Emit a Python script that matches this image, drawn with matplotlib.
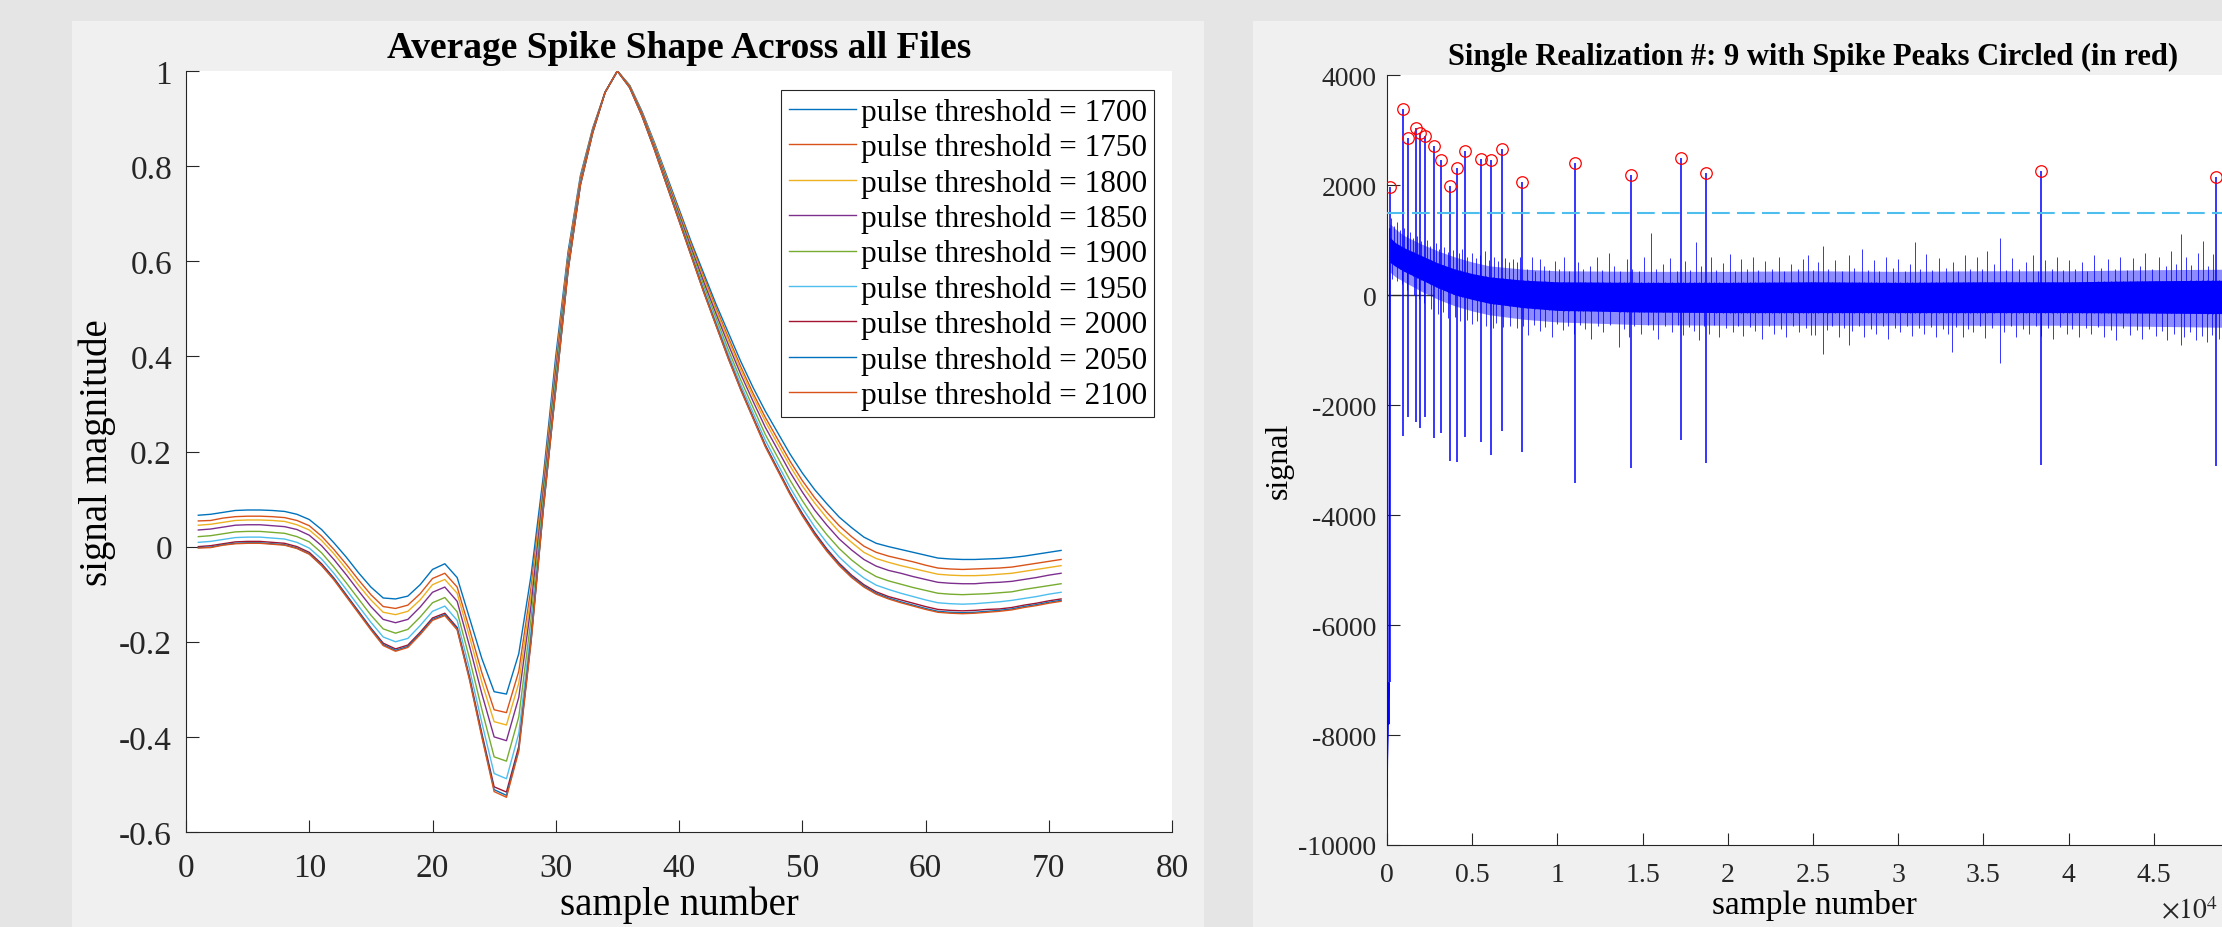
import matplotlib
matplotlib.use('Agg')
import matplotlib.pyplot as plt
from matplotlib.patches import Rectangle
import numpy as np

plt.rcParams['font.family'] = ['Liberation Serif', 'DejaVu Serif']
plt.rcParams['mathtext.fontset'] = 'stix'
plt.rcParams['axes.unicode_minus'] = False

# ---------------- left panel data ----------------
samples = list(range(1, 72))
thresholds = [1700, 1750, 1800, 1850, 1900, 1950, 2000, 2050, 2100]

avg_1700 = [0.066, 0.068, 0.072, 0.076, 0.077, 0.077, 0.076, 0.074, 0.068, 0.057,
            0.036, 0.008, -0.022, -0.055, -0.085, -0.108, -0.110, -0.104, -0.080, -0.048,
            -0.036, -0.065, -0.150, -0.235, -0.305, -0.310, -0.225, -0.060, 0.150, 0.400,
            0.620, 0.780, 0.880, 0.955, 1.000, 0.970, 0.915, 0.850, 0.780, 0.710,
            0.640, 0.575, 0.510, 0.450, 0.390, 0.335, 0.285, 0.240, 0.195, 0.155,
            0.120, 0.090, 0.062, 0.040, 0.020, 0.007, 0.000, -0.006, -0.012, -0.018,
            -0.024, -0.026, -0.027, -0.027, -0.026, -0.025, -0.023, -0.020, -0.016, -0.012,
            -0.008]
avg_1750 = [0.054, 0.055, 0.060, 0.063, 0.064, 0.064, 0.063, 0.061, 0.055, 0.044,
            0.022, -0.006, -0.037, -0.070, -0.101, -0.126, -0.130, -0.123, -0.099, -0.067,
            -0.056, -0.085, -0.173, -0.265, -0.343, -0.349, -0.262, -0.085, 0.137, 0.387,
            0.613, 0.776, 0.878, 0.955, 1.000, 0.969, 0.913, 0.847, 0.776, 0.706,
            0.635, 0.568, 0.502, 0.440, 0.379, 0.323, 0.272, 0.226, 0.180, 0.139,
            0.103, 0.072, 0.044, 0.021, 0.001, -0.012, -0.020, -0.026, -0.032, -0.039,
            -0.045, -0.047, -0.048, -0.047, -0.046, -0.045, -0.043, -0.039, -0.035, -0.031,
            -0.027]
avg_1800 = [0.045, 0.047, 0.051, 0.055, 0.056, 0.056, 0.055, 0.053, 0.046, 0.035,
            0.013, -0.015, -0.047, -0.081, -0.112, -0.138, -0.143, -0.136, -0.112, -0.080,
            -0.069, -0.098, -0.189, -0.285, -0.368, -0.375, -0.287, -0.102, 0.129, 0.379,
            0.608, 0.774, 0.877, 0.955, 1.000, 0.969, 0.912, 0.846, 0.774, 0.703,
            0.631, 0.563, 0.497, 0.434, 0.372, 0.316, 0.263, 0.216, 0.170, 0.128,
            0.092, 0.060, 0.031, 0.009, -0.012, -0.025, -0.033, -0.040, -0.046, -0.052,
            -0.058, -0.060, -0.061, -0.061, -0.060, -0.058, -0.056, -0.052, -0.048, -0.044,
            -0.040]
avg_1850 = [0.035, 0.037, 0.041, 0.045, 0.046, 0.046, 0.044, 0.042, 0.036, 0.024,
            0.002, -0.027, -0.059, -0.093, -0.126, -0.153, -0.160, -0.153, -0.127, -0.096,
            -0.085, -0.115, -0.209, -0.309, -0.400, -0.408, -0.317, -0.123, 0.119, 0.369,
            0.602, 0.771, 0.876, 0.955, 1.000, 0.968, 0.911, 0.843, 0.771, 0.699,
            0.627, 0.557, 0.490, 0.425, 0.363, 0.306, 0.251, 0.204, 0.157, 0.115,
            0.077, 0.045, 0.016, -0.007, -0.027, -0.041, -0.050, -0.056, -0.063, -0.069,
            -0.075, -0.077, -0.078, -0.078, -0.076, -0.075, -0.073, -0.069, -0.065, -0.060,
            -0.056]
avg_1900 = [0.021, 0.023, 0.027, 0.031, 0.032, 0.032, 0.030, 0.028, 0.021, 0.010,
            -0.013, -0.043, -0.076, -0.110, -0.144, -0.173, -0.182, -0.174, -0.148, -0.118,
            -0.107, -0.137, -0.235, -0.342, -0.442, -0.451, -0.358, -0.151, 0.105, 0.355,
            0.594, 0.767, 0.874, 0.955, 1.000, 0.967, 0.909, 0.840, 0.767, 0.694,
            0.621, 0.549, 0.481, 0.414, 0.351, 0.293, 0.236, 0.188, 0.140, 0.097,
            0.058, 0.025, -0.004, -0.028, -0.048, -0.063, -0.072, -0.079, -0.086, -0.092,
            -0.098, -0.100, -0.101, -0.100, -0.099, -0.097, -0.095, -0.090, -0.086, -0.082,
            -0.078]
avg_1950 = [0.009, 0.011, 0.015, 0.019, 0.020, 0.020, 0.018, 0.016, 0.009, -0.003,
            -0.026, -0.056, -0.090, -0.125, -0.159, -0.190, -0.200, -0.193, -0.166, -0.136,
            -0.125, -0.155, -0.257, -0.370, -0.477, -0.488, -0.393, -0.175, 0.093, 0.343,
            0.587, 0.764, 0.872, 0.955, 1.000, 0.966, 0.907, 0.838, 0.764, 0.690,
            0.615, 0.542, 0.473, 0.405, 0.341, 0.282, 0.224, 0.174, 0.125, 0.081,
            0.042, 0.008, -0.022, -0.046, -0.066, -0.081, -0.090, -0.098, -0.105, -0.112,
            -0.118, -0.120, -0.121, -0.120, -0.118, -0.116, -0.113, -0.109, -0.105, -0.100,
            -0.096]
avg_2000 = [0.000, 0.002, 0.006, 0.010, 0.011, 0.011, 0.009, 0.007, 0.000, -0.012,
            -0.036, -0.066, -0.101, -0.136, -0.171, -0.203, -0.215, -0.207, -0.180, -0.150,
            -0.140, -0.170, -0.274, -0.392, -0.505, -0.516, -0.420, -0.193, 0.084, 0.334,
            0.582, 0.761, 0.871, 0.955, 1.000, 0.965, 0.906, 0.836, 0.761, 0.686,
            0.612, 0.537, 0.467, 0.398, 0.333, 0.273, 0.214, 0.164, 0.114, 0.070,
            0.030, -0.005, -0.035, -0.060, -0.080, -0.095, -0.105, -0.112, -0.119, -0.126,
            -0.132, -0.134, -0.135, -0.134, -0.132, -0.131, -0.128, -0.123, -0.119, -0.114,
            -0.110]
avg_2050 = [-0.002, -0.001, 0.004, 0.007, 0.008, 0.008, 0.006, 0.004, -0.003, -0.015,
            -0.039, -0.068, -0.103, -0.138, -0.173, -0.206, -0.218, -0.210, -0.183, -0.153,
            -0.143, -0.173, -0.277, -0.397, -0.511, -0.523, -0.426, -0.197, 0.081, 0.331,
            0.581, 0.760, 0.870, 0.955, 1.000, 0.965, 0.905, 0.835, 0.760, 0.686,
            0.611, 0.536, 0.466, 0.396, 0.331, 0.271, 0.212, 0.162, 0.112, 0.067,
            0.027, -0.008, -0.038, -0.063, -0.083, -0.098, -0.108, -0.116, -0.123, -0.130,
            -0.136, -0.138, -0.139, -0.138, -0.136, -0.134, -0.131, -0.126, -0.122, -0.117,
            -0.113]
avg_2100 = [-0.003, -0.002, 0.003, 0.006, 0.007, 0.007, 0.005, 0.003, -0.004, -0.016,
            -0.040, -0.070, -0.105, -0.140, -0.175, -0.208, -0.220, -0.212, -0.185, -0.155,
            -0.145, -0.175, -0.280, -0.400, -0.515, -0.527, -0.430, -0.200, 0.080, 0.330,
            0.580, 0.760, 0.870, 0.955, 1.000, 0.965, 0.905, 0.835, 0.760, 0.685,
            0.610, 0.535, 0.465, 0.395, 0.330, 0.270, 0.210, 0.160, 0.110, 0.065,
            0.025, -0.010, -0.040, -0.065, -0.085, -0.100, -0.110, -0.118, -0.125, -0.132,
            -0.138, -0.140, -0.141, -0.140, -0.138, -0.136, -0.133, -0.128, -0.124, -0.119,
            -0.115]
curves = [avg_1700, avg_1750, avg_1800, avg_1850, avg_1900,
          avg_1950, avg_2000, avg_2050, avg_2100]
curve_colors = ['#0072BD', '#D95319', '#EDB120', '#7E2F8E', '#77AC30',
                '#4DBEEE', '#A2142F', '#0072BD', '#D95319']

left_xticks = [0, 10, 20, 30, 40, 50, 60, 70, 80]
left_yticks = [-0.6, -0.4, -0.2, 0, 0.2, 0.4, 0.6, 0.8, 1.0]
left_yticklabels = ['-0.6', '-0.4', '-0.2', '0', '0.2', '0.4', '0.6', '0.8', '1']

# ---------------- right panel data (x in units of 1e4 samples) ----------------
spike_x = [0.017, 0.091, 0.124, 0.168, 0.195, 0.222, 0.277, 0.318, 0.371, 0.413,
           0.458, 0.553, 0.612, 0.673, 0.794, 1.101, 1.434, 1.723, 1.874, 3.838, 4.866]
spike_peak = [1958, 3380, 2860, 3042, 2940, 2900, 2710, 2453, 1990, 2313,
              2624, 2473, 2453, 2660, 2046, 2402, 2185, 2500, 2222, 2247, 2150]
spike_trough = [-7040, -2558, -2224, -2303, -2412, -2224, -2605, -2515, -3024, -3036,
                -2576, -2667, -2909, -2473, -2860, -3418, -3150, -2634, -3063, -3085, -3118]

start_x = [0.0, 0.002, 0.006, 0.008, 0.010, 0.012, 0.016]
start_y = [-9130, -8450, -7950, -7050, -7800, -7040, 1200]

env_x = [0.016, 0.05, 0.1, 0.2, 0.3, 0.4, 0.5, 0.6, 0.8, 1.0, 1.5, 2.0, 2.5, 3.0, 3.5, 4.0, 4.5, 5.0]
core_hi = [1050, 950, 860, 720, 580, 470, 390, 330, 270, 240, 230, 230, 240, 230, 240, 240, 260, 270]
core_lo = [600, 520, 430, 280, 130, 0, -80, -150, -230, -280, -310, -320, -320, -320, -320, -320, -330, -340]
fringe_hi = [1300, 1200, 1080, 930, 800, 690, 600, 530, 470, 440, 430, 430, 440, 430, 440, 440, 460, 470]
fringe_lo = [420, 330, 240, 70, -80, -200, -290, -360, -440, -490, -540, -550, -550, -550, -550, -550, -570, -590]

# upward noise excursions beyond the dense band
up_x = [0.025, 0.04, 0.058, 0.075, 0.098, 0.115, 0.135, 0.152, 0.178, 0.2,
        0.232, 0.255, 0.29, 0.305, 0.335, 0.36, 0.39, 0.425, 0.44, 0.47,
        0.5, 0.525, 0.545, 0.575, 0.6, 0.625, 0.65, 0.69, 0.715, 0.74,
        0.765, 0.78, 0.82, 0.85, 0.87, 0.896, 0.92, 0.95, 0.984, 1.01,
        1.04, 1.07, 1.12, 1.15, 1.19, 1.23, 1.26, 1.3, 1.33, 1.37,
        1.41, 1.44, 1.48, 1.51, 1.547, 1.58, 1.62, 1.66, 1.7, 1.75,
        1.78, 1.812, 1.84, 1.9, 1.93, 1.97, 2.01, 2.04, 2.08, 2.11,
        2.146, 2.18, 2.22, 2.26, 2.3, 2.33, 2.37, 2.41, 2.44, 2.47,
        2.5, 2.53, 2.556, 2.59, 2.63, 2.67, 2.71, 2.74, 2.79, 2.82,
        2.86, 2.89, 2.93, 2.97, 3.0, 3.04, 3.07, 3.1, 3.13, 3.165,
        3.2, 3.24, 3.28, 3.32, 3.35, 3.39, 3.42, 3.46, 3.49, 3.52,
        3.56, 3.6, 3.63, 3.67, 3.71, 3.75, 3.79, 3.82, 3.86, 3.9,
        3.93, 3.97, 4.0, 4.04, 4.08, 4.11, 4.15, 4.19, 4.23, 4.27,
        4.3, 4.34, 4.38, 4.42, 4.45, 4.49, 4.53, 4.57, 4.6, 4.63,
        4.66, 4.69, 4.72, 4.76, 4.79, 4.82, 4.85, 4.9, 4.93, 4.97]
up_tip = [1400, 1250, 1330, 1180, 1220, 1100, 1150, 1030, 1080, 980,
          1000, 900, 940, 830, 880, 780, 820, 760, 840, 700,
          760, 680, 720, 800, 640, 700, 620, 680, 600, 660,
          600, 700, 480, 700, 430, 660, 520, 450, 620, 480,
          700, 440, 600, 470, 520, 690, 450, 760, 520, 430,
          660, 480, 440, 700, 1130, 470, 560, 680, 440, 620,
          460, 968, 520, 700, 450, 580, 750, 430, 660, 480,
          690, 450, 620, 480, 700, 440, 560, 470, 650, 720,
          450, 600, 900, 480, 640, 430, 720, 500, 840, 460,
          640, 440, 700, 500, 660, 430, 560, 968, 480, 753,
          450, 680, 500, 600, 440, 720, 470, 700, 480, 807,
          560, 1031, 450, 680, 480, 600, 720, 440, 640, 470,
          700, 460, 640, 480, 600, 440, 720, 500, 660, 470,
          700, 460, 680, 520, 760, 480, 700, 520, 800, 560,
          1109, 700, 540, 760, 990, 520, 740, 600, 760, 560]

# downward noise excursions beyond the dense band
down_x = [0.03, 0.06, 0.09, 0.12, 0.16, 0.19, 0.22, 0.26, 0.3, 0.33,
          0.36, 0.4, 0.43, 0.47, 0.5, 0.53, 0.58, 0.62, 0.64, 0.68,
          0.72, 0.76, 0.8, 0.83, 0.86, 0.9, 0.93, 0.97, 1.0, 1.03,
          1.06, 1.1, 1.13, 1.16, 1.2, 1.24, 1.27, 1.31, 1.36, 1.39,
          1.42, 1.45, 1.49, 1.53, 1.56, 1.59, 1.63, 1.67, 1.71, 1.74,
          1.77, 1.8, 1.83, 1.86, 1.89, 1.92, 1.95, 1.99, 2.03, 2.06,
          2.09, 2.13, 2.16, 2.2, 2.24, 2.27, 2.31, 2.34, 2.38, 2.42,
          2.46, 2.49, 2.51, 2.556, 2.58, 2.61, 2.65, 2.68, 2.71, 2.73,
          2.77, 2.8, 2.84, 2.87, 2.91, 2.94, 2.98, 3.01, 3.05, 3.08,
          3.12, 3.15, 3.19, 3.22, 3.26, 3.29, 3.315, 3.34, 3.38, 3.41,
          3.44, 3.48, 3.51, 3.55, 3.6, 3.62, 3.66, 3.69, 3.73, 3.77,
          3.81, 3.84, 3.88, 3.91, 3.95, 3.99, 4.02, 4.06, 4.1, 4.13,
          4.17, 4.21, 4.25, 4.28, 4.32, 4.36, 4.4, 4.43, 4.47, 4.51,
          4.55, 4.58, 4.62, 4.66, 4.68, 4.71, 4.75, 4.78, 4.81, 4.84,
          4.88, 4.92, 4.96]
down_tip = [300, 250, 200, 100, 0, -80, -150, -250, -350, -300,
            -420, -400, -480, -450, -520, -480, -560, -600, -500, -580,
            -560, -600, -560, -720, -540, -660, -580, -760, -520, -640,
            -560, -700, -540, -620, -800, -560, -680, -540, -945, -620,
            -760, -560, -700, -540, -640, -800, -560, -680, -540, -720,
            -580, -660, -820, -560, -700, -540, -760, -600, -680, -560,
            -740, -580, -660, -800, -560, -700, -620, -760, -560, -680,
            -600, -720, -730, -1075, -640, -560, -760, -600, -913, -660,
            -560, -760, -620, -700, -560, -800, -600, -680, -560, -740,
            -600, -700, -580, -760, -620, -700, -1042, -580, -760, -620,
            -680, -560, -780, -600, -1236, -680, -560, -760, -620, -700,
            -560, -740, -600, -800, -580, -700, -620, -760, -600, -700,
            -580, -760, -640, -820, -600, -720, -640, -800, -620, -740,
            -660, -820, -700, -909, -760, -680, -820, -740, -860, -720,
            -800, -760, -840]

threshold_level = 1500
right_xticks = [0, 0.5, 1, 1.5, 2, 2.5, 3, 3.5, 4, 4.5]
right_yticks = [-10000, -8000, -6000, -4000, -2000, 0, 2000, 4000]

# ---------------- figure ----------------
W, H = 2222, 928
fig = plt.figure(figsize=(W / 100, H / 100), dpi=100)
fig.patch.set_facecolor('#e5e5e5')
fig.add_artist(Rectangle((72 / W, 0), (1204 - 72) / W, 1 - 22 / H, transform=fig.transFigure,
                         fc='#f0f0f0', ec='none', zorder=-10))
fig.add_artist(Rectangle((1253 / W, 0), (W - 1253) / W + 0.01, 1 - 22 / H, transform=fig.transFigure,
                         fc='#f0f0f0', ec='none', zorder=-10))

axc = '#262626'

def style(ax, size, xpad, ypad):
    ax.set_facecolor('white')
    for s in ('top', 'right'):
        ax.spines[s].set_visible(False)
    for s in ('left', 'bottom'):
        ax.spines[s].set_color(axc)
        ax.spines[s].set_linewidth(0.8)
    ax.tick_params(direction='in', length=9, width=0.8, color=axc, labelcolor=axc, labelsize=size)
    ax.tick_params(axis='x', pad=xpad)
    ax.tick_params(axis='y', pad=ypad)

# left axes
ax1 = fig.add_axes([186 / W, 1 - 833 / H, 986 / W, 761 / H])
style(ax1, 24, 15, 10)
for y, c, t in zip(curves, curve_colors, thresholds):
    ax1.plot(samples, y, color=c, lw=1.0, label=f'pulse threshold = {t}')
ax1.set_xlim(0, 80)
ax1.set_ylim(-0.6, 1.0)
ax1.set_xticks(left_xticks)
ax1.set_xticklabels([str(v) for v in left_xticks])
ax1.set_yticks(left_yticks)
ax1.set_yticklabels(left_yticklabels)
ax1.set_title('Average Spike Shape Across all Files', fontsize=27, fontweight='bold', pad=10)
leg = ax1.legend(loc='upper right', bbox_to_anchor=((1154 - 186) / 986, (833 - 91) / 761),
                 borderaxespad=0, fontsize=22.5, frameon=True, fancybox=False, framealpha=1,
                 handlelength=2.15, handletextpad=0.16, labelspacing=0.19, borderpad=0.23)
leg.get_frame().set_edgecolor(axc)
leg.get_frame().set_linewidth(0.8)

fig.text(97 / W, 1 - 452.5 / H, 'signal magnitude', rotation=90, ha='center', va='center', fontsize=28)
fig.text(679 / W, 1 - 905 / H, 'sample number', ha='center', va='center', fontsize=28)

# right axes
ax2 = fig.add_axes([1387 / W, 1 - 846 / H, 852 / W, 770 / H])
style(ax2, 20, 12, 7.5)
blue = '#0000FF'
ax2.plot([0, 0.27], [0, 0], color='#404040', lw=1.0, zorder=1)
ax2.fill_between(env_x, fringe_lo, fringe_hi, color=blue, alpha=0.45, lw=0, zorder=2)
ax2.fill_between(env_x, core_lo, core_hi, color=blue, lw=0, zorder=2)
ax2.vlines(up_x, np.interp(up_x, env_x, core_lo), up_tip, color=blue, lw=0.65, alpha=0.85, zorder=3)
ax2.vlines(down_x, down_tip, np.interp(down_x, env_x, core_hi), color=blue, lw=0.65, alpha=0.85, zorder=3)
ax2.vlines(spike_x, spike_trough, spike_peak, color=blue, lw=1.1, zorder=3)
ax2.plot(start_x, start_y, color=blue, lw=1.1, zorder=3)
ax2.axhline(threshold_level, color='#4DBEEE', lw=1.5, linestyle=(0, (8.5, 3.5)), zorder=4)
ax2.plot(spike_x, spike_peak, 'o', mfc='none', mec='#FF0000', ms=8.3, mew=0.9, zorder=5)
ax2.set_xlim(0, 5)
ax2.set_ylim(-10000, 4000)
ax2.set_xticks(right_xticks)
ax2.set_xticklabels([f'{v:g}' for v in right_xticks])
ax2.set_yticks(right_yticks)
ax2.set_yticklabels([str(v) for v in right_yticks])
ax2.set_title('Single Realization #: 9 with Spike Peaks Circled (in red)', fontsize=22,
              fontweight='bold', pad=8)
fig.text(1279 / W, 1 - 461 / H, 'signal', rotation=90, ha='center', va='center', fontsize=23)
fig.text(1814 / W, 1 - 906 / H, 'sample number', ha='center', va='center', fontsize=24)
fig.text(2218 / W, 1 - 912 / H, r'$\times 10^{4}$', ha='right', va='center', fontsize=20, color=axc)

fig.savefig('out.png', dpi=100, facecolor=fig.get_facecolor())
